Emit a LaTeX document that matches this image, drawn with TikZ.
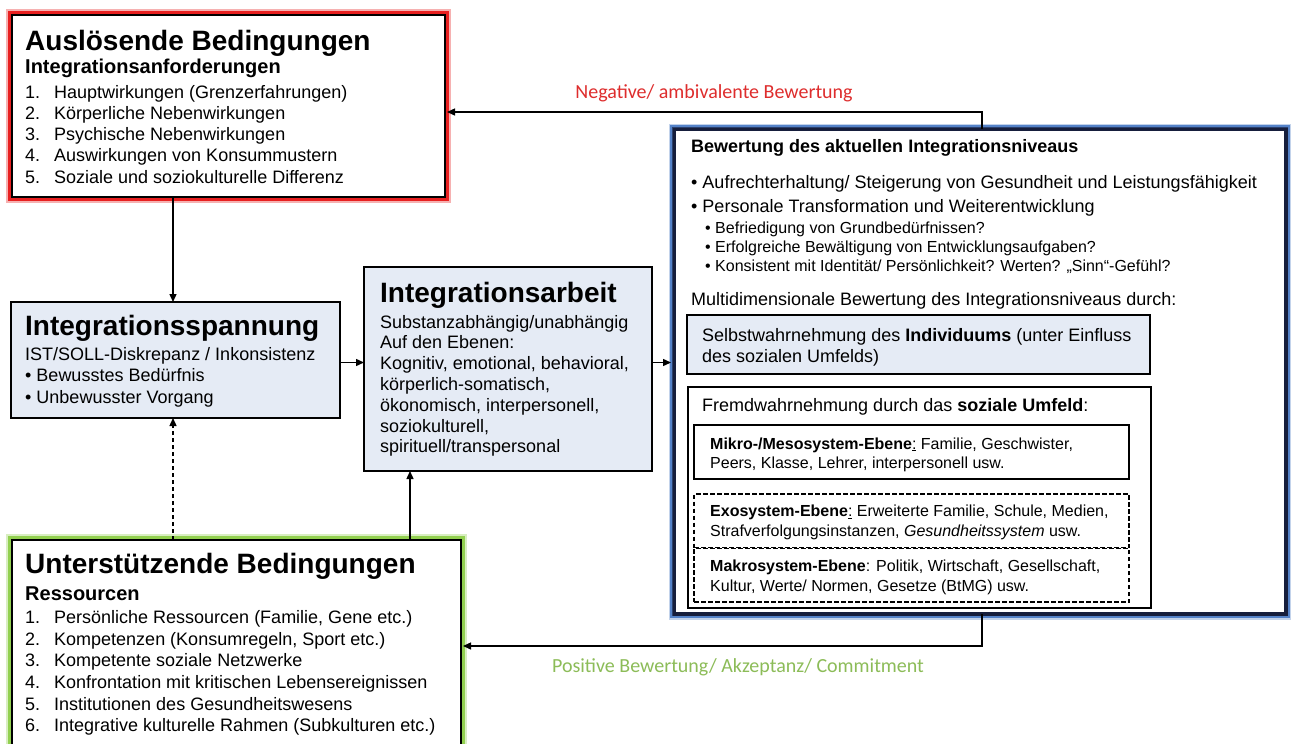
\documentclass[tikz,border=0pt]{standalone}
\usepackage{fontspec}
\setmainfont{Liberation Sans}
\newfontfamily\labelfont{Carlito}
\usetikzlibrary{arrows.meta,calc}

\definecolor{panelfill}{RGB}{229,235,245}
\definecolor{haloRed}{RGB}{232,32,32}
\definecolor{haloGreen}{RGB}{146,208,80}
\definecolor{haloBlue}{RGB}{84,130,200}
\definecolor{frameNavy}{RGB}{22,30,60}
\definecolor{labelRed}{RGB}{222,45,45}
\definecolor{labelGreen}{RGB}{140,188,88}

\begin{document}
\begin{tikzpicture}[x=1pt,y=-1pt,
  box/.style={draw=black, line width=2.2pt, inner sep=0pt, outer sep=0pt, anchor=north west},
  panel/.style={box, fill=panelfill},
  thinbox/.style={draw=black, line width=1.4pt, inner sep=0pt, outer sep=0pt, anchor=north west},
  dashbox/.style={draw=black, line width=1.4pt, inner sep=0pt, outer sep=0pt, anchor=north west, dash pattern=on 4.5pt off 2.5pt},
  txt/.style={anchor=base west, inner sep=0pt, text=black},
  ttl/.style={txt, font=\fontsize{28}{32}\selectfont\bfseries},
  sub/.style={txt, font=\fontsize{20}{24}\selectfont\bfseries},
  body/.style={txt, font=\fontsize{18}{21}\selectfont},
  small/.style={txt, font=\fontsize{16}{19}\selectfont},
  arr/.style={-{Triangle[length=8pt,width=7pt]}, line width=1.4pt},
  lbl/.style={anchor=base, inner sep=0pt, font=\labelfont\fontsize{20}{24}\selectfont},
]
\useasboundingbox (0,0) rectangle (1291,744);
\fill[white] (0,0) rectangle (1291,744);

% ---------- boxes ----------
\node[box, minimum width=433pt, minimum height=182pt] (b1) at (12,15) {};
\draw[haloRed, opacity=0.35, line width=5pt] ($(b1.north west)+(-3.2,-3.2)$) rectangle ($(b1.south east)+(3.2,3.2)$);
\draw[haloRed, line width=3pt] ($(b1.north west)+(-2.5,-2.5)$) rectangle ($(b1.south east)+(2.5,2.5)$);

\node[panel, minimum width=329pt, minimum height=116pt] (b2) at (11,302) {};
\node[panel, minimum width=288pt, minimum height=204pt] (b3) at (364,267) {};

\node[box, minimum width=449pt, minimum height=212pt] (b4) at (12,540) {};
\draw[haloGreen, opacity=0.35, line width=5pt] ($(b4.north west)+(-3.2,-3.2)$) rectangle ($(b4.south east)+(3.2,3.2)$);
\draw[haloGreen, line width=3pt] ($(b4.north west)+(-2.5,-2.5)$) rectangle ($(b4.south east)+(2.5,2.5)$);

\node[box, draw=frameNavy, line width=3.5pt, minimum width=612pt, minimum height=485pt] (b5) at (674,129) {};
\draw[haloBlue, opacity=0.35, line width=4pt] ($(b5.north west)+(-3.5,-3.5)$) rectangle ($(b5.south east)+(3.5,3.5)$);
\draw[haloBlue, line width=2.5pt] ($(b5.north west)+(-2.9,-2.9)$) rectangle ($(b5.south east)+(2.9,2.9)$);

\node[thinbox, fill=panelfill, minimum width=463pt, minimum height=59pt] (b5s) at (687,315) {};
\node[thinbox, minimum width=463pt, minimum height=221pt] (b5f) at (688,387) {};
\node[box, line width=2pt, minimum width=435pt, minimum height=54pt] (b5m) at (694,425) {};
\node[dashbox, minimum width=435pt, minimum height=53.5pt] (b5e) at (694,494) {};
\node[dashbox, minimum width=435pt, minimum height=53.5pt] (b5k) at (694,548.5) {};

% ---------- texts: triggering conditions ----------
\node[ttl] (t1) at (25,50) {Auslösende Bedingungen};
\node[sub] (t1s) at (25,73) {Integrationsanforderungen};
\node[body] (t1a) at (25,98) {\makebox[29pt][l]{1.}Hauptwirkungen (Grenzerfahrungen)};
\node[body] (t1b) at (25,119.3) {\makebox[29pt][l]{2.}Körperliche Nebenwirkungen};
\node[body] (t1c) at (25,140.6) {\makebox[29pt][l]{3.}Psychische Nebenwirkungen};
\node[body] (t1d) at (25,161.9) {\makebox[29pt][l]{4.}Auswirkungen von Konsummustern};
\node[body] (t1e) at (25,183.2) {\makebox[29pt][l]{5.}Soziale und soziokulturelle Differenz};

% ---------- integration tension ----------
\node[ttl] (t2) at (25,335) {Integrationsspannung};
\node[body] (t2a) at (25,360) {IST/SOLL-Diskrepanz / Inkonsistenz};
\node[body] (t2b) at (25,381.5) {• Bewusstes Bedürfnis};
\node[body] (t2c) at (25,403) {• Unbewusster Vorgang};

% ---------- integration work ----------
\node[ttl] (t3) at (380,302) {Integrationsarbeit};
\node[body] (t3a) at (380,328) {Substanzabhängig/unabhängig};
\node[body] (t3b) at (380,348.8) {Auf den Ebenen:};
\node[body] (t3c) at (380,369.6) {Kognitiv, emotional, behavioral,};
\node[body] (t3d) at (380,390.4) {körperlich-somatisch,};
\node[body] (t3e) at (380,411.2) {ökonomisch, interpersonell,};
\node[body] (t3f) at (380,432) {soziokulturell,};
\node[body] (t3g) at (380,452.8) {spirituell/transpersonal};

% ---------- supporting conditions ----------
\node[ttl] (t4) at (25,573.3) {Unterstützende Bedingungen};
\node[sub] (t4s) at (25,600) {Ressourcen};
\node[body] (t4a) at (25,623.3) {\makebox[29pt][l]{1.}Persönliche Ressourcen (Familie, Gene etc.)};
\node[body] (t4b) at (25,645) {\makebox[29pt][l]{2.}Kompetenzen (Konsumregeln, Sport etc.)};
\node[body] (t4c) at (25,666.7) {\makebox[29pt][l]{3.}Kompetente soziale Netzwerke};
\node[body] (t4d) at (25,688.4) {\makebox[29pt][l]{4.}Konfrontation mit kritischen Lebensereignissen};
\node[body] (t4e) at (25,710.1) {\makebox[29pt][l]{5.}Institutionen des Gesundheitswesens};
\node[body] (t4f) at (25,731.8) {\makebox[29pt][l]{6.}Integrative kulturelle Rahmen (Subkulturen etc.)};

% ---------- evaluation ----------
\node[body, font=\fontsize{18}{21}\selectfont\bfseries] (t5) at (691,152.5) {Bewertung des aktuellen Integrationsniveaus};
\node[body] (t5a) at (691,188) {• Aufrechterhaltung/ Steigerung von Gesundheit und Leistungsfähigkeit};
\node[body] (t5b) at (691,212.3) {• Personale Transformation und Weiterentwicklung};
\node[small] (t5c) at (705,233.3) {• Befriedigung von Grundbedürfnissen?};
\node[small] (t5d) at (705,252.7) {• Erfolgreiche Bewältigung von Entwicklungsaufgaben?};
\node[small] (t5e) at (705,271.7) {• Konsistent mit Identität/ Persönlichkeit? Werten? „Sinn“-Gefühl?};
\node[body] (t5f) at (691,305.5) {Multidimensionale Bewertung des Integrationsniveaus durch:};
\node[body] (t5g) at (702,341) {Selbstwahrnehmung des \textbf{Individuums} (unter Einfluss};
\node[body] (t5h) at (702,362.5) {des sozialen Umfelds)};
\node[body] (t5i) at (702,411.5) {Fremdwahrnehmung durch das \textbf{soziale Umfeld}:};
\node[small] (t5j) at (710,449) {\textbf{Mikro-/Mesosystem-Ebene}\underline{:} Familie, Geschwister,};
\node[small] (t5k) at (710,468) {Peers, Klasse, Lehrer, interpersonell usw.};
\node[small] (t5l) at (710,516.5) {\textbf{Exosystem-Ebene}\underline{:} Erweiterte Familie, Schule, Medien,};
\node[small] (t5m) at (710,536) {Strafverfolgungsinstanzen, \textit{Gesundheitssystem} usw.};
\node[small] (t5n) at (710,571) {\textbf{Makrosystem-Ebene}: Politik, Wirtschaft, Gesellschaft,};
\node[small] (t5o) at (710,591) {Kultur, Werte/ Normen, Gesetze (BtMG) usw.};

% ---------- connectors ----------
\coordinate (cxa) at (173,0);
\coordinate (cxb) at (410,0);
\coordinate (cya) at (0,362.5);
\coordinate (neg) at (982,112);
\coordinate (pos) at (982,646);

\draw[arr] (cxa |- b1.south) -- (cxa |- b2.north);
\draw[arr, dash pattern=on 4pt off 3pt] (cxa |- b4.north) -- (cxa |- b2.south);
\draw[arr] (cxb |- b4.north) -- (cxb |- b3.south);
\draw[arr] (cya -| b2.east) -- (cya -| b3.west);
\draw[arr] (cya -| b3.east) -- ($(cya -| b5.west)+(-3,0)$);
\draw[arr] (neg |- b5.north) -- (neg) -- ($(neg -| b1.east)+(2,0)$);
\draw[arr] (pos |- b5.south) -- (pos) -- ($(pos -| b4.east)+(2,0)$);

\node[lbl, text=labelRed] (lneg) at (714,98) {Negative/ ambivalente Bewertung};
\node[lbl, text=labelGreen] (lpos) at (738,672) {Positive Bewertung/ Akzeptanz/ Commitment};
\end{tikzpicture}
\end{document}
